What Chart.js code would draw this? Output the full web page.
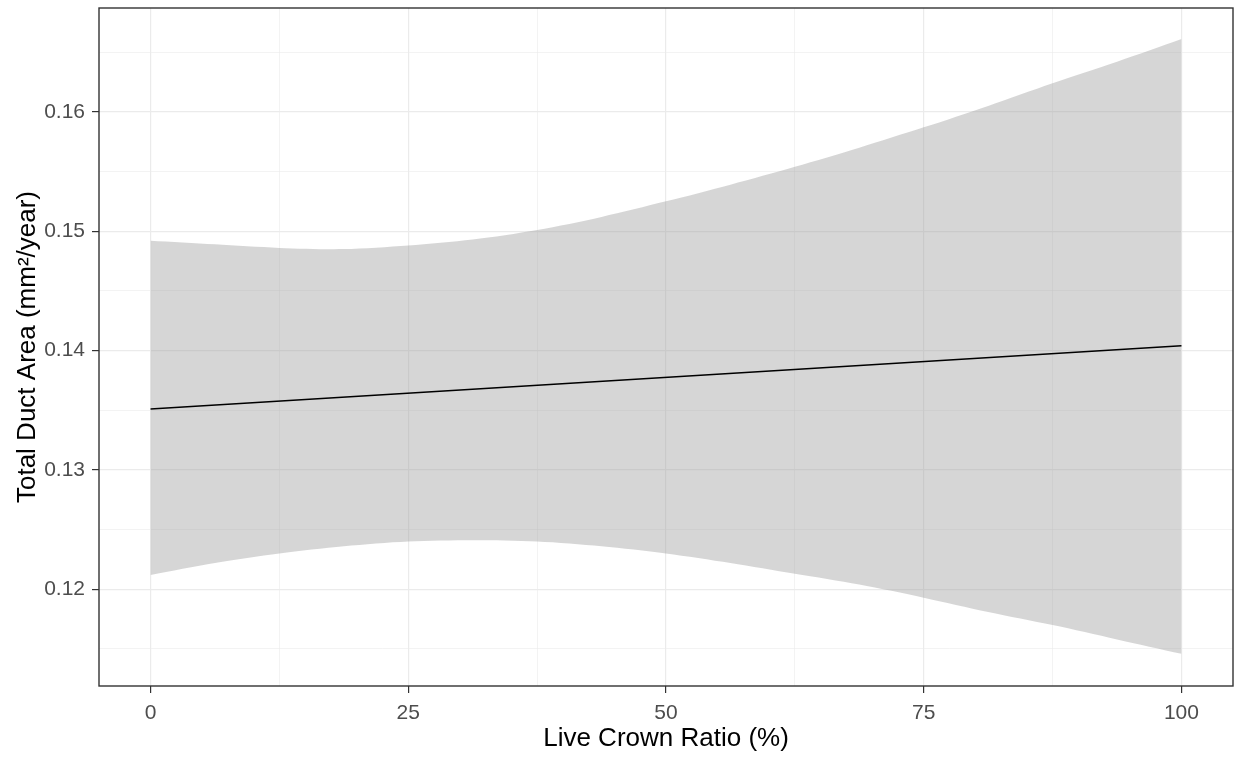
<!DOCTYPE html>
<html>
<head>
<meta charset="utf-8">
<script src="https://cdn.jsdelivr.net/npm/chart.js@4/dist/chart.umd.min.js"></script>
<style>
  html, body { margin: 0; padding: 0; background: #ffffff; }
  #wrap { width: 1236px; height: 757px; position: relative; }
</style>
</head>
<body>
<div id="wrap"><canvas id="c" width="1236" height="757"></canvas></div>
<script>
// ---- data ----
const bandX     = [0, 6.25, 12.5, 18.75, 25, 31.25, 37.5, 43.75, 50, 56.25, 62.5, 68.75, 75, 81.25, 87.5, 93.75, 100];
const bandUpper = [0.1492, 0.1489, 0.1486, 0.1485, 0.1488, 0.1493, 0.1501, 0.1512, 0.1525, 0.1539, 0.1554, 0.1570, 0.1587, 0.1605, 0.1624, 0.1642, 0.1661];
const bandLower = [0.1212, 0.1222, 0.1230, 0.1236, 0.1240, 0.1241, 0.1240, 0.1236, 0.1230, 0.1222, 0.1213, 0.1204, 0.1193, 0.1181, 0.1170, 0.1158, 0.1146];
const lineX     = [0, 100];
const lineY     = [0.1351, 0.1404];
const xMajorTicks = [0, 25, 50, 75, 100];
const yMajorTicks = [0.12, 0.13, 0.14, 0.15, 0.16];
const xTitle = 'Live Crown Ratio (%)';
const yTitle = 'Total Duct Area (mm\u00b2/year)';

// minor ticks are midpoints between majors (plus half-steps beyond)
function withMinors(major) {
  const step = major[1] - major[0];
  const out = [];
  for (let i = 0; i < major.length; i++) {
    out.push(major[i]);
    if (i < major.length - 1) out.push(major[i] + step / 2);
  }
  return out;
}
const xAllTicks = withMinors(xMajorTicks);
const yAllTicks = [yMajorTicks[0] - (yMajorTicks[1] - yMajorTicks[0]) / 2]
  .concat(withMinors(yMajorTicks))
  .concat([yMajorTicks[yMajorTicks.length - 1] + (yMajorTicks[1] - yMajorTicks[0]) / 2]);

const isMajor = (list, v) => list.some(m => Math.abs(m - v) < 1e-9);

const pts = (xs, ys) => xs.map((x, i) => ({ x: x, y: ys[i] }));

const FONT = '"Liberation Sans", Arial, "DejaVu Sans", sans-serif';

const panelBorder = {
  id: 'panelBorder',
  afterDatasetsDraw(chart) {
    const { ctx, chartArea: a } = chart;
    ctx.save();
    ctx.strokeStyle = '#333333';
    ctx.lineWidth = 1.4;
    ctx.strokeRect(a.left, a.top, a.right - a.left, a.bottom - a.top);
    ctx.restore();
  }
};

new Chart(document.getElementById('c'), {
  type: 'line',
  data: {
    datasets: [
      {
        label: 'fit',
        data: pts(lineX, lineY),
        borderColor: '#000000',
        borderWidth: 1.5,
        pointRadius: 0,
        fill: false,
        tension: 0,
        order: 0
      },
      {
        label: 'upper',
        data: pts(bandX, bandUpper),
        borderWidth: 0,
        borderColor: 'rgba(0,0,0,0)',
        backgroundColor: 'rgba(153,153,153,0.4)',
        pointRadius: 0,
        fill: '+1',
        tension: 0.3,
        order: 1
      },
      {
        label: 'lower',
        data: pts(bandX, bandLower),
        borderWidth: 0,
        borderColor: 'rgba(0,0,0,0)',
        pointRadius: 0,
        fill: false,
        tension: 0.3,
        order: 2
      }
    ]
  },
  options: {
    responsive: false,
    animation: false,
    devicePixelRatio: 1,
    layout: { padding: { top: 8, right: 3, left: 0, bottom: 0 } },
    plugins: { legend: { display: false }, tooltip: { enabled: false } },
    scales: {
      x: {
        type: 'linear',
        min: -5,
        max: 105,
        afterBuildTicks(axis) { axis.ticks = xAllTicks.map(v => ({ value: v })); },
        afterFit(axis) { axis.height = 71; axis.paddingLeft = 0; axis.paddingRight = 0; },
        border: { display: false },
        grid: {
          color: '#ebebeb',
          lineWidth: c => (c.tick && isMajor(xMajorTicks, c.tick.value)) ? 1.2 : 0.6,
          drawTicks: true,
          tickLength: 7,
          tickColor: c => (c.tick && isMajor(xMajorTicks, c.tick.value)) ? '#333333' : 'rgba(0,0,0,0)',
          tickWidth: 1.2
        },
        ticks: {
          autoSkip: false,
          maxRotation: 0,
          padding: 8,
          color: '#4d4d4d',
          font: { family: FONT, size: 21 },
          callback: v => isMajor(xMajorTicks, v) ? String(v) : ''
        },
        title: {
          display: true,
          text: xTitle,
          color: '#000000',
          font: { family: FONT, size: 26 },
          padding: { top: 0, bottom: 3 }
        }
      },
      y: {
        type: 'linear',
        min: 0.1119,
        max: 0.1687,
        afterBuildTicks(axis) { axis.ticks = yAllTicks.map(v => ({ value: v })); },
        afterFit(axis) { axis.width = 99; axis.paddingTop = 0; axis.paddingBottom = 0; },
        border: { display: false },
        grid: {
          color: '#ebebeb',
          lineWidth: c => (c.tick && isMajor(yMajorTicks, c.tick.value)) ? 1.2 : 0.6,
          drawTicks: true,
          tickLength: 7,
          tickColor: c => (c.tick && isMajor(yMajorTicks, c.tick.value)) ? '#333333' : 'rgba(0,0,0,0)',
          tickWidth: 1.2
        },
        ticks: {
          autoSkip: false,
          padding: 7,
          color: '#4d4d4d',
          font: { family: FONT, size: 21 },
          callback: v => isMajor(yMajorTicks, v) ? v.toFixed(2) : ''
        },
        title: {
          display: true,
          text: yTitle,
          color: '#000000',
          font: { family: FONT, size: 26 },
          padding: { top: 12, bottom: 0 }
        }
      }
    }
  },
  plugins: [panelBorder]
});
</script>
</body>
</html>
